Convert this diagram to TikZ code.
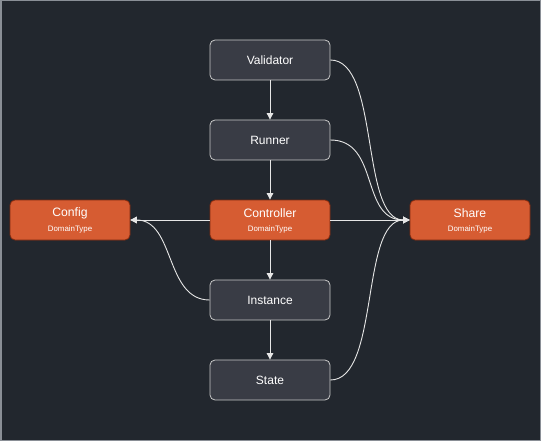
\documentclass[tikz,border=0pt]{standalone}
\usepackage{fontspec}
\setmainfont{Liberation Sans}
\usetikzlibrary{arrows.meta}
\definecolor{bg}{HTML}{22272E}
\definecolor{frame}{HTML}{8A8F96}
\definecolor{boxfill}{HTML}{393C45}
\definecolor{boxline}{HTML}{C8C8C8}
\definecolor{orfill}{HTML}{D65C32}
\definecolor{orline}{HTML}{7E2A10}
\definecolor{edge}{HTML}{E6E6E6}
\begin{document}
\begin{tikzpicture}[x=1pt,y=-1pt,
  plainbox/.style={draw=boxline,fill=boxfill,rounded corners=5pt,line width=0.8pt,minimum width=120pt,minimum height=40pt,text=white,font=\fontsize{12}{14}\selectfont,inner sep=0pt},
  domainbox/.style={draw=orline,fill=orfill,rounded corners=5pt,line width=0.8pt,minimum width=120pt,minimum height=40pt,inner sep=0pt},
  ttl/.style={text=white,font=\fontsize{12.2}{14}\selectfont,inner sep=0pt},
  sub/.style={text=white,font=\fontsize{7.9}{9}\selectfont,inner sep=0pt},
  conn/.style={draw=edge,line width=0.9pt,-{Triangle[length=6.5pt,width=6.5pt]}}
]
\fill[bg] (0,0) rectangle (541,441);
\draw[frame,line width=1.5pt] (0.75,0.75) rectangle (540.25,440.25);
\useasboundingbox (0,0) rectangle (541,441);

\node[plainbox] (val) at (270,60) {Validator};
\node[plainbox] (run) at (270,140) {Runner};
\node[domainbox] (ctl) at (270,220) {};
\node[ttl] (ctlt) at (270,213) {Controller};
\node[sub] (ctls) at (270,229) {DomainType};
\node[plainbox] (ins) at (270,300) {Instance};
\node[plainbox] (sta) at (270,380) {State};
\node[domainbox] (cfg) at (70,220) {};
\node[ttl] (cfgt) at (70,213) {Config};
\node[sub] (cfgs) at (70,229) {DomainType};
\node[domainbox] (shr) at (470,220) {};
\node[ttl] (shrt) at (470,213) {Share};
\node[sub] (shrs) at (470,229) {DomainType};

\draw[conn] (val) -- (run);
\draw[conn] (run) -- (ctl);
\draw[conn] (ctl) -- (ins);
\draw[conn] (ins) -- (sta);
\draw[conn] (ctl) -- (cfg);
\draw[conn] (ctl) -- (shr);
\draw[conn] (ins.west) .. controls (165,300) and (175,220) .. (cfg.east);
\draw[conn] (val.east) .. controls (380,60) and (360,220) .. (shr.west);
\draw[conn] (run.east) .. controls (380,140) and (360,220) .. (shr.west);
\draw[conn] (sta.east) .. controls (380,380) and (360,220) .. (shr.west);
\end{tikzpicture}
\end{document}
